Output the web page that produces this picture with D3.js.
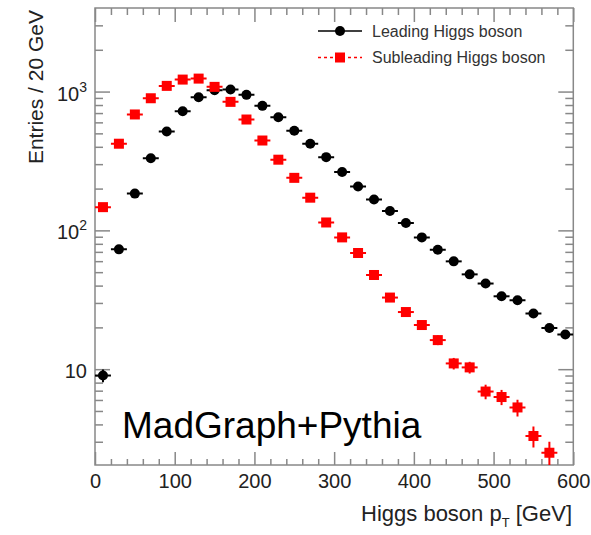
<!DOCTYPE html>
<html>
<head>
<meta charset="utf-8">
<script src="https://cdn.jsdelivr.net/npm/d3@7"></script>
<style>
  body { margin: 0; background: #fff; }
  text { font-family: "Liberation Sans", Arial, sans-serif; }
</style>
</head>
<body>
<div id="chart-area"></div>
<script>
// bin centres (20 GeV bins)
var binCentres = [10, 30, 50, 70, 90, 110, 130, 150, 170, 190, 210, 230, 250, 270, 290,
    310, 330, 350, 370, 390, 410, 430, 450, 470, 490, 510, 530, 550, 570, 590];

var leadingValues = [9.0, 73, 184, 331, 515, 722, 910, 1022, 1034, 947, 789, 653, 522, 421, 337,
    263, 207, 167, 138, 113, 89, 72.6, 59.8, 48.2, 41.4, 33.5, 31.4, 25.2, 19.8, 17.8];
var leadingErrors = [0.95, 2.7, 4.3, 5.8, 7.2, 8.5, 9.5, 10.1, 10.2, 9.7, 8.9, 8.1, 7.2, 6.5, 5.8,
    5.1, 4.5, 4.1, 3.7, 3.4, 3.0, 2.7, 2.4, 2.2, 2.0, 1.8, 1.8, 1.6, 1.4, 1.3];

var subleadingValues = [147, 421, 684, 895, 1099, 1220, 1240, 1081, 843, 629, 444, 323, 239, 172, 114,
    89, 68.7, 47.7, 32.8, 25.8, 20.8, 16.2, 11.0, 10.3, 6.9, 6.3, 5.3, 3.3, 2.5];
var subleadingErrors = [3.8, 6.5, 8.3, 9.5, 10.5, 11, 11.1, 10.4, 9.2, 7.9, 6.7, 5.7, 4.9, 4.1, 3.4,
    3.0, 2.6, 2.2, 1.8, 1.6, 1.4, 1.3, 1.05, 1.0, 0.83, 0.79, 0.73, 0.57, 0.5];

var xMajorTicks = [0, 100, 200, 300, 400, 500, 600];
var yMajorTicks = [10, 100, 1000];
var yTickLabels = ["10", "10|2", "10|3"];
var legendLabels = ["Leading Higgs boson", "Subleading Higgs boson"];

var margin = {left: 95, top: 8, right: 17.7, bottom: 70};
var width = 591 - margin.left - margin.right;
var height = 535 - margin.top - margin.bottom;
var axisColor = "#888";

var svg = d3.select("#chart-area")
    .append("svg")
    .attr("width", 591)
    .attr("height", 535);

var g = svg.append("g")
    .attr("transform", "translate(" + margin.left + "," + margin.top + ")");

var x = d3.scaleLinear()
    .domain([0, 600])
    .range([0, width]);

var y = d3.scaleLog()
    .domain([2.04, 4000])
    .range([height, 0]);

var xMinorTicks = d3.range(20, 600, 20).filter(function(v){ return v % 100 !== 0; });
var yMinorTicks = [];
[1, 10, 100, 1000].forEach(function(dec){
    for (var k = 2; k <= 9; k++) {
        var v = dec * k;
        if (v > 2.04 && v < 4000) yMinorTicks.push(v);
    }
});

function styleAxis(sel) {
    sel.select(".domain").remove();
    sel.selectAll(".tick line").attr("stroke", axisColor).attr("stroke-width", 1.5);
    sel.selectAll(".tick text").attr("fill", "#222").style("font-size", "20px")
        .style("font-family", "'Liberation Sans', Arial, sans-serif");
}

// x axes (bottom + top), ticks inward
g.append("g").attr("transform", "translate(0," + height + ")")
    .call(d3.axisBottom(x).tickValues(xMinorTicks).tickSize(-6).tickFormat(""))
    .call(styleAxis);
g.append("g").attr("transform", "translate(0," + height + ")")
    .call(d3.axisBottom(x).tickValues(xMajorTicks).tickSize(-13).tickPadding(9).tickFormat(d3.format("d")))
    .call(styleAxis);
g.append("g")
    .call(d3.axisTop(x).tickValues(xMinorTicks).tickSize(-7).tickFormat(""))
    .call(styleAxis);
g.append("g")
    .call(d3.axisTop(x).tickValues(xMajorTicks).tickSize(-14).tickFormat(""))
    .call(styleAxis);

// y axes (left + right)
g.append("g")
    .call(d3.axisLeft(y).tickValues(yMinorTicks).tickSize(-8).tickFormat(""))
    .call(styleAxis);
g.append("g")
    .call(d3.axisLeft(y).tickValues(yMajorTicks).tickSize(-15).tickFormat(""))
    .call(styleAxis);
g.append("g").attr("transform", "translate(" + width + ",0)")
    .call(d3.axisRight(y).tickValues(yMinorTicks).tickSize(-8).tickFormat(""))
    .call(styleAxis);
g.append("g").attr("transform", "translate(" + width + ",0)")
    .call(d3.axisRight(y).tickValues(yMajorTicks).tickSize(-15).tickFormat(""))
    .call(styleAxis);

// y tick labels with superscript exponents
yMajorTicks.forEach(function(v, i){
    var parts = yTickLabels[i].split("|");
    var t = g.append("text")
        .attr("x", -8)
        .attr("y", y(v) + 9)
        .attr("text-anchor", "end")
        .attr("fill", "#222")
        .style("font-size", "20px")
        .text(parts[0]);
    if (parts[1]) {
        t.append("tspan")
            .attr("dy", -9)
            .style("font-size", "14px")
            .text(parts[1]);
    }
});

// frame
g.append("rect")
    .attr("width", width)
    .attr("height", height)
    .attr("fill", "none")
    .attr("stroke", axisColor)
    .attr("stroke-width", 1.5);

// axis titles
svg.append("text")
    .attr("transform", "translate(43,10) rotate(-90)")
    .attr("text-anchor", "end")
    .attr("fill", "#222")
    .style("font-size", "21px")
    .text("Entries / 20 GeV");

var xt = svg.append("text")
    .attr("x", 572)
    .attr("y", 521)
    .attr("text-anchor", "end")
    .attr("fill", "#222")
    .style("font-size", "22px");
xt.append("tspan").text("Higgs boson p");
xt.append("tspan").attr("dy", 6).style("font-size", "13px").text("T");
xt.append("tspan").attr("dy", -6).text(" [GeV]");

// data
g.append("clipPath").attr("id", "plot-clip")
    .append("rect").attr("width", width).attr("height", height);
var plot = g.append("g").attr("clip-path", "url(#plot-clip)");

var leading = binCentres.map(function(c, i){ return {c: c, v: leadingValues[i], e: leadingErrors[i]}; });
var subleading = subleadingValues.map(function(v, i){ return {c: binCentres[i], v: v, e: subleadingErrors[i]}; });

function drawSeries(data, color) {
    var s = plot.append("g");
    s.selectAll("line.h")
        .data(data)
        .enter()
        .append("line")
        .attr("x1", function(d){ return x(d.c - 10); })
        .attr("x2", function(d){ return x(d.c + 10); })
        .attr("y1", function(d){ return y(d.v); })
        .attr("y2", function(d){ return y(d.v); })
        .attr("stroke", color)
        .attr("stroke-width", 2);
    s.selectAll("line.v")
        .data(data)
        .enter()
        .append("line")
        .attr("x1", function(d){ return x(d.c); })
        .attr("x2", function(d){ return x(d.c); })
        .attr("y1", function(d){ return y(Math.max(d.v - d.e, 0.5)); })
        .attr("y2", function(d){ return y(d.v + d.e); })
        .attr("stroke", color)
        .attr("stroke-width", 2);
    return s;
}

drawSeries(leading, "#000")
    .selectAll("circle")
    .data(leading)
    .enter()
    .append("circle")
    .attr("cx", function(d){ return x(d.c); })
    .attr("cy", function(d){ return y(d.v); })
    .attr("r", 5)
    .attr("fill", "#000");

drawSeries(subleading, "#f00")
    .selectAll("rect")
    .data(subleading)
    .enter()
    .append("rect")
    .attr("x", function(d){ return x(d.c) - 5; })
    .attr("y", function(d){ return y(d.v) - 5; })
    .attr("width", 10)
    .attr("height", 10)
    .attr("fill", "#f00");

// legend
var legend = svg.append("g");
[0, 1].forEach(function(i){
    var ly = 31 + i * 26.5;
    legend.append("line")
        .attr("x1", 318).attr("x2", 362)
        .attr("y1", ly).attr("y2", ly)
        .attr("stroke", i === 0 ? "#000" : "#f00")
        .attr("stroke-width", 1.5)
        .attr("stroke-dasharray", i === 0 ? null : "3,3");
    if (i === 0) {
        legend.append("circle").attr("cx", 340).attr("cy", ly).attr("r", 5).attr("fill", "#000");
    } else {
        legend.append("rect").attr("x", 335).attr("y", ly - 5).attr("width", 10).attr("height", 10).attr("fill", "#f00");
    }
    legend.append("text")
        .attr("x", 372)
        .attr("y", ly + 5.5)
        .attr("fill", "#333")
        .style("font-size", "16px")
        .text(legendLabels[i]);
});

// generator label
svg.append("text")
    .attr("x", 122)
    .attr("y", 438)
    .attr("fill", "#000")
    .style("font-size", "37px")
    .text("MadGraph+Pythia");
</script>
</body>
</html>
